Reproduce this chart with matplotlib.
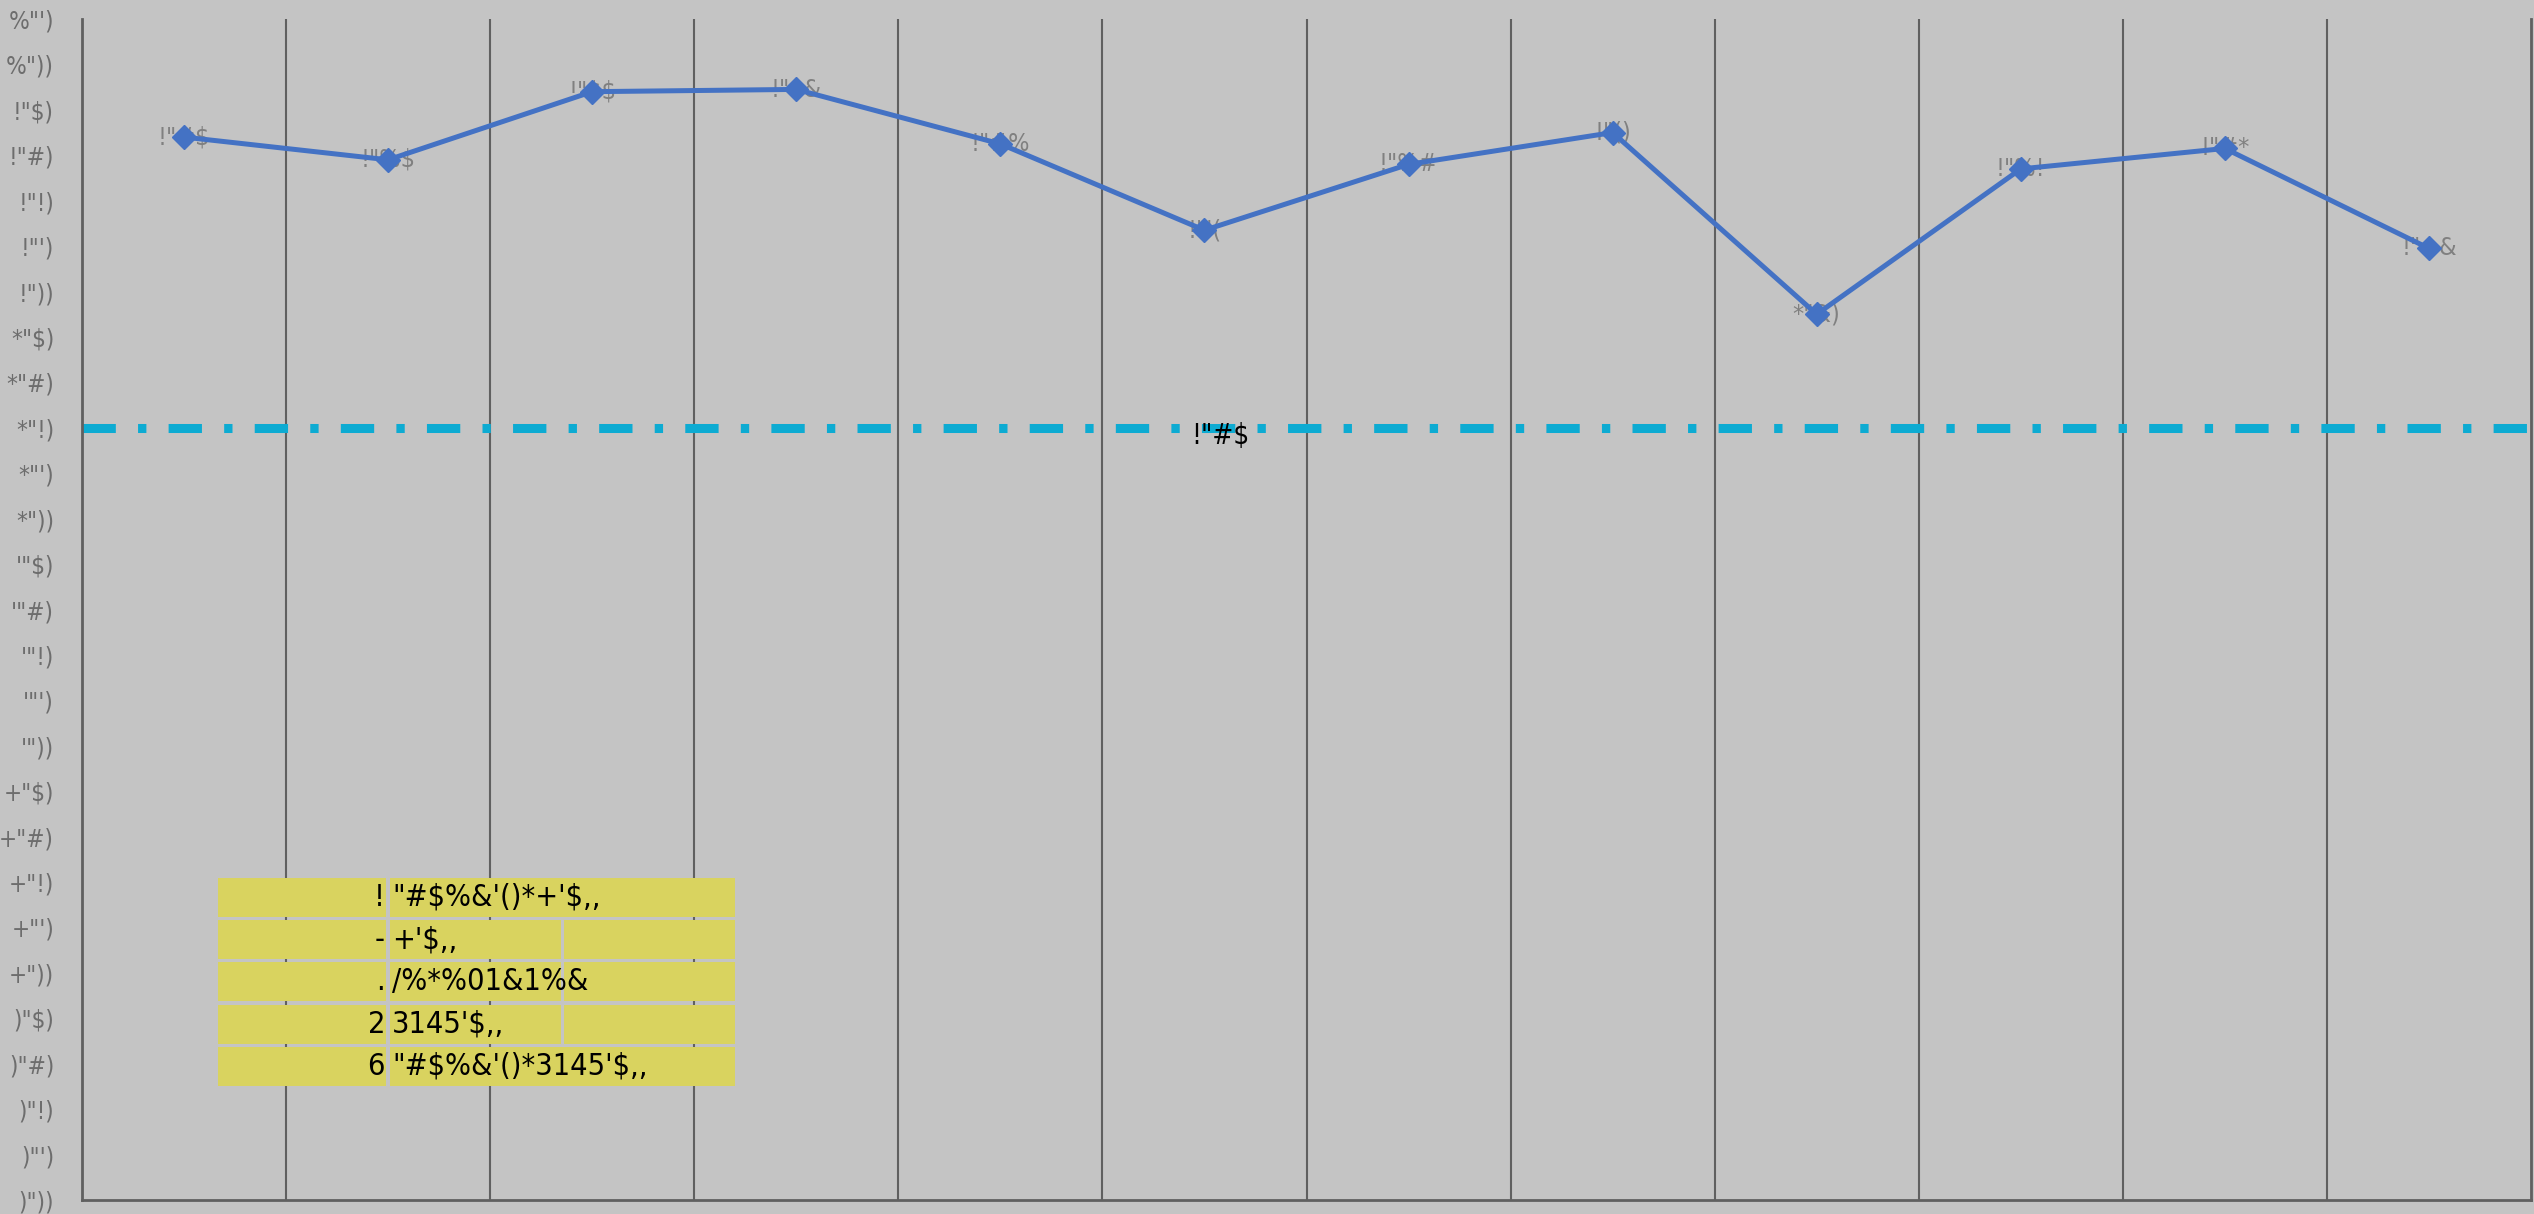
import matplotlib
matplotlib.use("Agg")
import matplotlib.pyplot as plt
from matplotlib.patches import Rectangle

# data
categories = list(range(12))
values = [4.68, 4.58, 4.88, 4.89, 4.65, 4.27, 4.56, 4.70, 3.90, 4.54, 4.63, 4.19]
value_labels = ['!"#$', '!"%$', '!"$$', '!"$&', '!"#%', '!"\'(',
                '!"%#', '!"()', '*"&)', '!"%!', '!"#*', '!"+&']
ref_value = 3.40
ref_label = '!"#$'
ytick_values = [round(0.2 * i, 2) for i in range(27)]
ytick_labels = [')"))', ')"\')', ')"!)', ')"#)', ')"$)',
                '+"))', '+"\')', '+"!)', '+"#)', '+"$)',
                '\'"))', '\'"\')', '\'"!)', '\'"#)', '\'"$)',
                '*"))', '*"\')', '*"!)', '*"#)', '*"$)',
                '!"))', '!"\')', '!"!)', '!"#)', '!"$)',
                '%"))', '%"\')']
table_left = ['!', '-', '.', '2', '6']
table_right = ['"#$%&\'()*+\'$,,', '+\'$,,', '/%*%01&1%&', '3145\'$,,',
               '"#$%&\'()*3145\'$,,']

BG = '#c4c4c4'
GRID = '#606060'
font = dict(family='DejaVu Sans', fontstretch='condensed')
plt.rcParams['lines.scale_dashes'] = False
plt.rcParams['text.parse_math'] = False

fig = plt.figure(figsize=(25.34, 12.14), dpi=100, facecolor=BG)
ax = fig.add_axes([82 / 2534, 14 / 1214, 2449 / 2534, 1181 / 1214])
ax.set_facecolor(BG)

ax.plot(categories, values, color='#4472c4', lw=3.6, marker='D',
        markersize=12, zorder=4)
for x, v, s in zip(categories, values, value_labels):
    ax.text(x, v, s, ha='center', va='center', fontsize=18, color='#808080',
            zorder=3, **font)

# reference line
line = ax.axhline(ref_value, color='#0dabd2', lw=6.5, zorder=2)
line.set_dashes((24, 16, 6, 16))
ax.annotate(ref_label, (5.08, ref_value), xytext=(0, -6),
            textcoords='offset points', ha='center', va='center',
            fontsize=20, color='black', zorder=5, **font)

ax.set_xlim(-0.5, 11.5)
ax.set_ylim(0, 5.2)
ax.set_yticks(ytick_values)
ax.set_yticklabels(ytick_labels, fontsize=17.5, color='#6d6d6d', **font)
ax.set_xticks([c + 0.5 for c in categories[:-1]])
ax.set_xticklabels([])
ax.tick_params(length=0, pad=20)
ax.grid(axis='x', color=GRID, lw=1.5)
ax.grid(axis='y', visible=False)
for side in ['left', 'bottom', 'right']:
    ax.spines[side].set_color(GRID)
    ax.spines[side].set_linewidth(2)
ax.spines['top'].set_visible(False)

# table in the lower left, in figure pixels
W, H = 2534, 1214
top = 878
rh = 39
step = 42.2
c1 = (218, 386)
c2 = (390, 561)
c3 = (564, 735)
FILL = '#d9d35f'

def cell(x0, x1, y0):
    fig.add_artist(Rectangle((x0 / W, 1 - (y0 + rh) / H), (x1 - x0) / W, rh / H,
                             transform=fig.transFigure, facecolor=FILL,
                             edgecolor='none', zorder=6))

for i in range(5):
    y0 = top + i * step
    cell(*c1, y0)
    if i in (0, 4):
        cell(c2[0], c3[1], y0)
    else:
        cell(*c2, y0)
        cell(*c3, y0)
    yc = 1 - (y0 + rh / 2) / H
    fig.text((c1[1] - 1) / W, yc, table_left[i], ha='right', va='center',
             fontsize=22, color='black', zorder=7, **font)
    fig.text((c2[0] + 2) / W, yc, table_right[i], ha='left', va='center',
             fontsize=22, color='black', zorder=7, **font)

fig.savefig('out.png', dpi=100, facecolor=BG)
